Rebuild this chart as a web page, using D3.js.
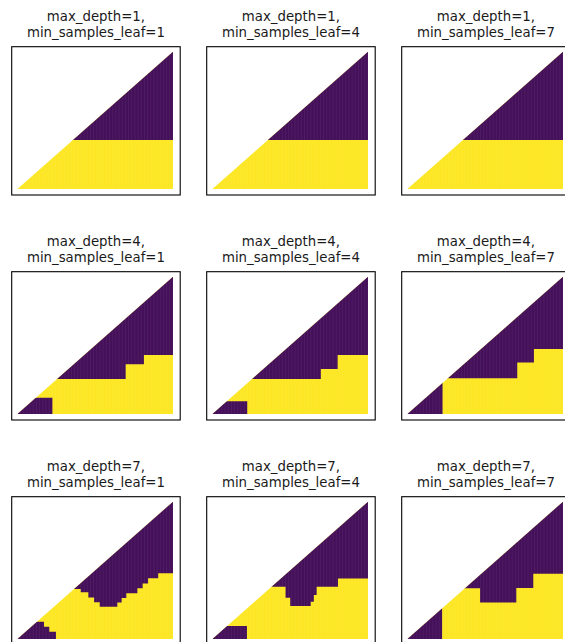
<!DOCTYPE html>
<html>
<head>
<meta charset="utf-8">
<script src="https://cdn.jsdelivr.net/npm/d3@7"></script>
<style>
  html, body { margin: 0; padding: 0; background: #fff; }
  svg { display: block; }
</style>
</head>
<body>
<svg id="chart" width="565" height="642"></svg>
<script>
// Grid of hyper-parameters for the decision tree
const maxDepths = [1, 4, 7];
const minSamplesLeaf = [1, 4, 7];

// Predicted class 0 (purple) lies above a staircase boundary; class 1 (yellow) below.
// Each step: [x where the step starts, boundary height], row-major by (max_depth, min_samples_leaf).
const upperSteps = [
  [[0, 0.357]],
  [[0, 0.357]],
  [[0, 0.357]],
  [[0, 0.255], [0.696, 0.362], [0.813, 0.430]],
  [[0, 0.255], [0.697, 0.328], [0.805, 0.430]],
  [[0, 0.260], [0.706, 0.376], [0.813, 0.473]],
  [[0, 0.364], [0.407, 0.340], [0.456, 0.303], [0.493, 0.267], [0.529, 0.235],
   [0.642, 0.265], [0.670, 0.298], [0.700, 0.333], [0.771, 0.369],
   [0.805, 0.405], [0.840, 0.442], [0.905, 0.478]],
  [[0, 0.380], [0.470, 0.300], [0.500, 0.240], [0.632, 0.272], [0.652, 0.320],
   [0.670, 0.381], [0.807, 0.440]],
  [[0, 0.370], [0.467, 0.265], [0.700, 0.372], [0.809, 0.476]]
];

// Small purple leaf near the origin: [x where the step starts, height of the purple block].
const lowerSteps = [
  [],
  [],
  [],
  [[0, 0.119], [0.225, 0]],
  [[0, 0.092], [0.224, 0]],
  [[0, 1], [0.226, 0]],
  [[0, 0.126], [0.171, 0.090], [0.205, 0.053], [0.248, 0]],
  [[0, 0.095], [0.222, 0]],
  [[0, 1], [0.223, 0]]
];

const classColors = ["#45105a", "#fde725"];

const svg = d3.select("#chart");

const axLeft0 = 11.7, colStep = 195, axTop0 = 46.7, rowStep = 225;
const axW = 168.5, axH = 148.3;

const x = d3.scaleLinear().domain([0, 1]).range([5.7, 161.3]);
const y = d3.scaleLinear().domain([0, 1]).range([142.3, 5]);

// Sample columns of the evaluation grid (gives the faint vertical texture)
const gridCols = d3.range(0, 50).map(i => i / 49);

const stepArea = d3.area()
  .x(d => x(d[0]))
  .curve(d3.curveStepAfter);

maxDepths.forEach((depth, r) => {
  minSamplesLeaf.forEach((leaf, c) => {
    const k = r * 3 + c;
    const left = axLeft0 + c * colStep;
    const top = axTop0 + r * rowStep;
    const g = svg.append("g").attr("transform", `translate(${left},${top})`);

    const clipId = `tri-${k}`;
    g.append("clipPath").attr("id", clipId)
      .append("path")
      .attr("d", d3.line()([[x(0), y(0)], [x(1), y(0)], [x(1), y(1)]]) + "Z");

    const plot = g.append("g").attr("clip-path", `url(#${clipId})`);

    // class 1 fills the whole triangle
    plot.append("rect")
      .attr("x", x(0)).attr("y", y(1))
      .attr("width", x(1) - x(0)).attr("height", y(0) - y(1))
      .attr("fill", classColors[1]);

    // class 0 above the boundary
    const up = upperSteps[k].slice();
    up.push([1, up[up.length - 1][1]]);
    plot.append("path")
      .attr("d", stepArea.y0(y(1)).y1(d => y(d[1]))(up))
      .attr("fill", classColors[0]);

    // class 0 leaf next to the origin
    if (lowerSteps[k].length) {
      plot.append("path")
        .attr("d", stepArea.y0(y(0)).y1(d => y(Math.min(d[1], 1)))(lowerSteps[k]))
        .attr("fill", classColors[0]);
    }

    plot.selectAll("line.col")
      .data(gridCols)
      .join("line")
      .attr("class", "col")
      .attr("x1", d => x(d)).attr("x2", d => x(d))
      .attr("y1", y(1)).attr("y2", y(0))
      .attr("stroke", "#ffffff")
      .attr("stroke-opacity", 0.07)
      .attr("stroke-width", 0.8);

    g.append("rect")
      .attr("x", 0).attr("y", 0)
      .attr("width", axW).attr("height", axH)
      .attr("fill", "none")
      .attr("stroke", "#000")
      .attr("stroke-width", 1.1);

    const title = g.append("text")
      .attr("text-anchor", "middle")
      .attr("font-family", "DejaVu Sans, sans-serif")
      .attr("font-size", 13.3)
      .attr("fill", "#1a1a1a");
    title.append("tspan").attr("x", axW / 2).attr("y", -26).text(`max_depth=${depth},`);
    title.append("tspan").attr("x", axW / 2).attr("y", -10).text(`min_samples_leaf=${leaf}`);
  });
});
</script>
</body>
</html>
